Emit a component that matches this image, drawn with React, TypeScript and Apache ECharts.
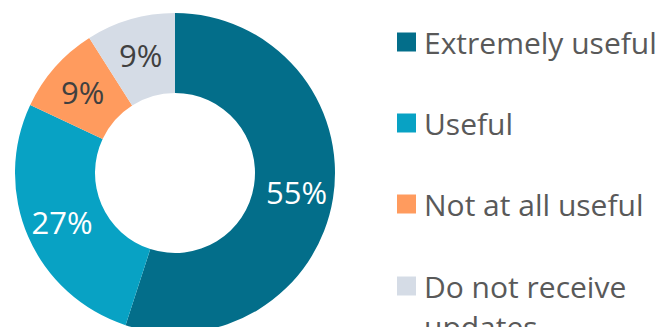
import React, { useEffect, useRef } from "react";
import * as echarts from "echarts";

const categories = ["Extremely useful", "Useful", "Not at all useful", "Do not receive updates"];
const values = [55, 27, 9, 9];
const colors = ["#036E8A", "#08A2C4", "#FF9B5E", "#D5DCE6"];
const labelColors = ["#FFFFFF", "#FFFFFF", "#404040", "#404040"];

const FONT = "'Open Sans', 'Noto Sans', sans-serif";

export default function App() {
  const ref = useRef<HTMLDivElement>(null);
  useEffect(() => {
    if (!ref.current) return;
    const chart = echarts.init(ref.current, undefined, { renderer: "svg" });
    const legendText = {
      fontFamily: FONT,
      fontSize: 30,
      color: "#595959",
      lineHeight: 40,
      padding: [0, 0, 0, 3],
    };
    chart.setOption({
      animation: false,
      legend: [
        {
          orient: "vertical",
          left: 397,
          top: 22,
          padding: 0,
          itemWidth: 19,
          itemHeight: 19,
          itemGap: 41,
          icon: "rect",
          selectedMode: false,
          data: categories.slice(0, 3),
          textStyle: legendText,
        },
        {
          orient: "vertical",
          left: 397,
          top: 226,
          padding: 0,
          itemWidth: 19,
          itemHeight: 19,
          icon: "rect",
          selectedMode: false,
          data: categories.slice(3),
          formatter: () => "\nDo not receive\nupdates",
          textStyle: legendText,
        },
      ],
      series: [
        {
          type: "pie",
          center: [175, 173],
          radius: [80, 160],
          startAngle: 90,
          clockwise: true,
          avoidLabelOverlap: false,
          label: {
            show: true,
            position: "inside",
            formatter: "{c}%",
            fontFamily: FONT,
            fontSize: 31,
          },
          labelLine: { show: false },
          emphasis: { disabled: true },
          data: categories.map((name, i) => ({
            name,
            value: values[i],
            itemStyle: { color: colors[i] },
            label: { color: labelColors[i] },
          })),
        },
      ],
    });
    return () => chart.dispose();
  }, []);
  return (
    <div
      ref={ref}
      style={{ position: "fixed", left: 0, top: 0, width: 666, height: 327, background: "#fff" }}
    />
  );
}
